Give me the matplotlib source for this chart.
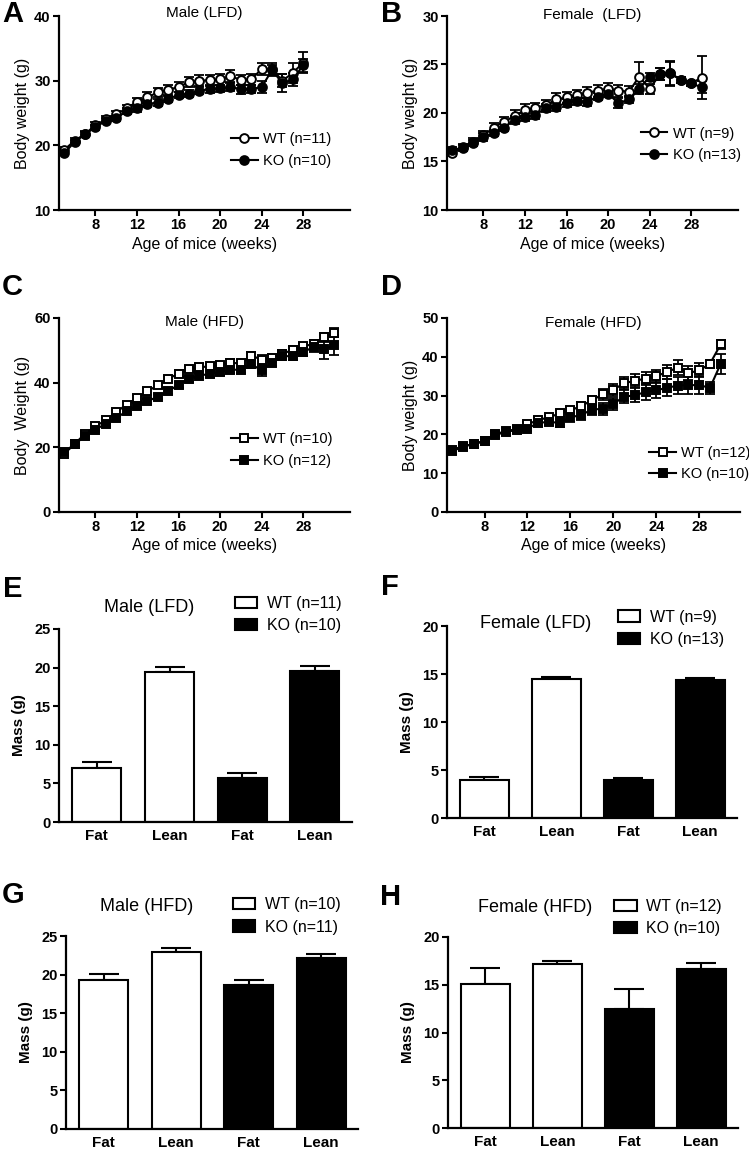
import matplotlib
matplotlib.use("Agg")
import matplotlib.pyplot as plt
from matplotlib.patches import Patch

plt.rcParams['font.family'] = ['Liberation Sans', 'DejaVu Sans']

# ---- data: body weight curves (mean, SEM) ----
weeks_a = [5, 6, 7, 8, 9, 10, 11, 12, 13, 14, 15, 16, 17, 18, 19, 20, 21, 22, 23, 24, 25, 26, 27, 28]
a_wt = [19.3, 20.7, 21.75, 23.1, 24.0, 24.8, 25.7, 26.75, 27.4, 28.2, 28.6, 29.0, 29.8, 30.0,
        30.05, 30.2, 30.7, 30.1, 30.2, 31.8, 31.75, 30.0, 31.2, 32.8]
a_wt_err = [0.4, 0.4, 0.4, 0.5, 0.5, 0.5, 0.6, 0.6, 0.9, 0.7, 0.8, 0.8, 0.8, 0.8, 0.9, 0.9,
            0.9, 0.8, 0.9, 0.9, 1.0, 1.0, 1.6, 1.6]
a_ko = [18.8, 20.5, 21.7, 22.8, 23.8, 24.2, 25.3, 25.7, 26.4, 26.6, 27.2, 27.8, 28.0, 28.45,
        28.7, 28.8, 29.0, 28.7, 28.7, 29.0, 31.65, 29.6, 30.2, 32.4]
a_ko_err = [0.3, 0.3, 0.4, 0.4, 0.4, 0.4, 0.5, 0.5, 0.5, 0.5, 0.5, 0.5, 0.5, 0.5, 0.6, 0.6,
            0.6, 0.7, 0.6, 0.9, 0.7, 1.4, 1.0, 1.0]

weeks_b = [5, 6, 7, 8, 9, 10, 11, 12, 13, 14, 15, 16, 17, 18, 19, 20, 21, 22, 23, 24, 25, 26, 27, 28, 29]
b_wt = [15.85, 16.5, 17.0, 17.7, 18.5, 19.1, 19.7, 20.3, 20.55, 20.8, 21.4, 21.6, 21.85, 22.1,
        22.3, 22.5, 22.3, 22.2, 23.75, 22.5, 24.0, 24.1, 23.4, 23.05, 23.65]
b_wt_err = [0.3, 0.3, 0.4, 0.4, 0.5, 0.5, 0.6, 0.6, 0.5, 0.5, 0.7, 0.6, 0.5, 0.6, 0.6, 0.6,
            0.6, 0.6, 1.5, 0.5, 0.6, 1.3, 0.3, 0.3, 2.2]
b_ko = [16.2, 16.4, 16.95, 17.55, 17.9, 18.5, 19.3, 19.6, 19.8, 20.5, 20.65, 21.05, 21.25, 21.15,
        21.7, 22.0, 21.0, 21.4, 22.45, 23.75, 24.0, 24.1, 23.4, 23.05, 22.65]
b_ko_err = [0.3, 0.3, 0.3, 0.4, 0.3, 0.4, 0.4, 0.4, 0.4, 0.4, 0.4, 0.4, 0.4, 0.4, 0.4, 0.4,
            0.5, 0.4, 0.5, 0.4, 0.6, 1.2, 0.3, 0.3, 0.6]

weeks_c = [5, 6, 7, 8, 9, 10, 11, 12, 13, 14, 15, 16, 17, 18, 19, 20, 21, 22, 23, 24, 25, 26,
           27, 28, 29, 30, 31]
c_wt = [18.0, 21.0, 24.2, 26.5, 28.4, 30.9, 33.2, 35.2, 37.3, 39.2, 41.2, 42.8, 44.3, 44.7,
        45.1, 45.4, 46.1, 46.0, 48.4, 47.1, 47.7, 49.0, 50.1, 51.2, 52.0, 54.0, 55.4]
c_wt_err = [0.6, 0.6, 0.7, 0.7, 0.8, 0.8, 0.9, 0.9, 1.0, 1.0, 1.0, 1.0, 1.0, 1.0, 1.1, 1.1,
            1.1, 1.1, 1.2, 1.4, 1.2, 1.2, 1.2, 1.2, 1.3, 1.4, 1.4]
c_ko = [18.5, 21.0, 23.4, 25.5, 27.3, 29.0, 31.2, 32.9, 34.3, 35.6, 37.3, 39.4, 41.2, 42.2,
        42.7, 43.4, 44.0, 44.0, 45.7, 43.8, 46.2, 48.1, 48.3, 49.5, 51.0, 50.3, 51.6]
c_ko_err = [0.6, 0.6, 0.7, 0.7, 0.7, 0.8, 0.8, 0.8, 0.8, 0.8, 0.9, 0.9, 0.9, 0.9, 0.9, 1.0,
            1.0, 1.0, 1.2, 1.8, 1.2, 1.2, 1.2, 1.2, 1.5, 3.0, 3.0]

weeks_d = [5, 6, 7, 8, 9, 10, 11, 12, 13, 14, 15, 16, 17, 18, 19, 20, 21, 22, 23, 24, 25, 26,
           27, 28, 29, 30]
d_wt = [16.0, 17.0, 17.5, 18.3, 20.0, 20.9, 21.3, 22.6, 23.7, 24.4, 25.4, 26.2, 27.3, 28.8,
        30.3, 31.5, 33.2, 33.8, 34.4, 35.0, 36.1, 37.2, 35.8, 36.5, 38.2, 43.2]
d_wt_err = [0.5, 0.5, 0.5, 0.5, 0.6, 0.6, 0.6, 0.6, 0.7, 0.7, 0.8, 0.9, 1.0, 1.2, 1.4, 1.5,
            1.6, 1.7, 1.7, 1.7, 1.8, 2.0, 1.9, 1.8, 1.0, 1.2]
d_ko = [15.7, 16.8, 17.6, 18.3, 19.8, 20.7, 21.1, 21.5, 23.0, 23.2, 23.0, 24.4, 25.0, 26.4,
        26.6, 27.9, 29.7, 30.1, 30.9, 31.4, 32.0, 32.6, 32.7, 32.7, 32.0, 38.2]
d_ko_err = [0.5, 0.5, 0.5, 0.5, 0.6, 0.6, 0.6, 0.6, 0.8, 0.9, 1.0, 1.1, 1.2, 1.3, 1.5, 1.6,
            1.7, 1.8, 2.0, 2.1, 2.2, 2.2, 2.3, 2.3, 1.5, 2.6]

# ---- data: body composition bars (WT fat, WT lean, KO fat, KO lean) ----
bar_labels = ['Fat', 'Lean', 'Fat', 'Lean']
e_vals = [7.0, 19.4, 5.7, 19.6]
e_errs = [0.75, 0.65, 0.65, 0.55]
f_vals = [4.0, 14.45, 4.0, 14.4]
f_errs = [0.27, 0.24, 0.2, 0.2]
g_vals = [19.3, 22.9, 18.6, 22.2]
g_errs = [0.75, 0.6, 0.75, 0.45]
h_vals = [15.1, 17.2, 12.5, 16.7]
h_errs = [1.7, 0.25, 2.05, 0.6]

W, H = 749, 1149
fig = plt.figure(figsize=(W / 100, H / 100), dpi=100)


def add_ax(l, t, r, b):
    # pixel box -> figure fraction
    return fig.add_axes([l / W, 1 - b / H, (r - l) / W, (b - t) / H])


def style_ax(ax):
    for s in ['top', 'right']:
        ax.spines[s].set_visible(False)
    for s in ['left', 'bottom']:
        ax.spines[s].set_linewidth(1.6)
    ax.tick_params(direction='out', length=4, width=1.5, labelsize=10.5, pad=2)


def line_panel(ax, weeks, wt, wt_err, ko, ko_err, marker, ms, title, ylabel, ylim, yticks,
               xlim, labels, leg_xy, title_y):
    style_ax(ax)
    ax.errorbar(weeks, wt, yerr=wt_err, fmt='none', ecolor='black', elinewidth=1.3,
                capsize=3.5, capthick=1.3, zorder=2)
    ax.errorbar(weeks, ko, yerr=ko_err, fmt='none', ecolor='black', elinewidth=1.3,
                capsize=3.5, capthick=1.3, zorder=2)
    ax.plot(weeks, wt, marker=marker, color='black', mfc='white', mec='black', ms=ms, mew=1.4,
            lw=1.5, label=labels[0], zorder=3)
    ax.plot(weeks, ko, marker=marker, color='black', mfc='black', mec='black', ms=ms, mew=1.4,
            lw=1.5, label=labels[1], zorder=4)
    ax.set_xlim(*xlim)
    ax.set_ylim(*ylim)
    ax.set_xticks([8, 12, 16, 20, 24, 28], ['8', '12', '16', '20', '24', '28'], fontweight='bold')
    ax.set_yticks(yticks, [str(v) for v in yticks], fontweight='bold')
    ax.set_xlabel('Age of mice (weeks)', fontsize=11.5, labelpad=3)
    ax.set_ylabel(ylabel, fontsize=11.5, labelpad=3)
    ax.text(0.5, title_y, title, transform=ax.transAxes, ha='center', va='center', fontsize=11)
    ax.legend(loc='upper left', bbox_to_anchor=leg_xy, frameon=False, borderpad=0,
              borderaxespad=0, handlelength=1.85, handletextpad=0.35, labelspacing=0.5,
              fontsize=10.5, numpoints=1)


def bar_panel(ax, vals, errs, title, labels, ylim, yticks, title_xy, leg_xy):
    style_ax(ax)
    pos = [0, 1, 2, 3]
    colors = ['white', 'white', 'black', 'black']
    ax.bar(pos, vals, width=0.675, color=colors, edgecolor='black', linewidth=1.5, zorder=2)
    ax.errorbar(pos, vals, yerr=[[0, 0, 0, 0], errs], fmt='none', ecolor='black',
                elinewidth=1.5, capsize=11, capthick=1.5, zorder=1)
    ax.set_xlim(-0.52, 3.51)
    ax.set_ylim(*ylim)
    ax.set_xticks(pos, bar_labels, fontweight='bold', fontsize=11)
    ax.tick_params(axis='x', length=0, pad=5)
    ax.set_yticks(yticks, [str(v) for v in yticks], fontweight='bold')
    ax.set_ylabel('Mass (g)', fontsize=11, fontweight='bold', labelpad=6)
    ax.text(title_xy[0], title_xy[1], title, transform=ax.transAxes, ha='center',
            va='center', fontsize=13)
    handles = [Patch(facecolor='white', edgecolor='black', linewidth=1.5, label=labels[0]),
               Patch(facecolor='black', edgecolor='black', linewidth=1.5, label=labels[1])]
    ax.legend(handles=handles, loc='upper left', bbox_to_anchor=leg_xy, frameon=False,
              borderpad=0, borderaxespad=0, handlelength=1.4, handleheight=0.7,
              handletextpad=0.6, labelspacing=0.45, fontsize=11.5)


# line charts
ax_a = add_ax(59, 16, 350, 210)
line_panel(ax_a, weeks_a, a_wt, a_wt_err, a_ko, a_ko_err, 'o', 6.3, 'Male (LFD)',
           'Body weight (g)', (10, 40), [10, 20, 30, 40], (4.5, 32.5),
           ['WT (n=11)', 'KO (n=10)'], (0.59, 0.40), 1.015)

ax_b = add_ax(447, 16, 738, 210)
line_panel(ax_b, weeks_b, b_wt, b_wt_err, b_ko, b_ko_err, 'o', 6.3, 'Female  (LFD)',
           'Body weight (g)', (10, 30), [10, 15, 20, 25, 30], (4.5, 32.5),
           ['WT (n=9)', 'KO (n=13)'], (0.665, 0.43), 1.005)

ax_c = add_ax(59, 318, 350, 512)
line_panel(ax_c, weeks_c, c_wt, c_wt_err, c_ko, c_ko_err, 's', 5.7, 'Male (HFD)',
           'Body  Weight (g)', (0, 60), [0, 20, 40, 60], (4.5, 32.5),
           ['WT (n=10)', 'KO (n=12)'], (0.59, 0.41), 0.98)

ax_d = add_ax(447, 318, 740, 512)
line_panel(ax_d, weeks_d, d_wt, d_wt_err, d_ko, d_ko_err, 's', 5.7, 'Female (HFD)',
           'Body weight (g)', (0, 50), [0, 10, 20, 30, 40, 50], (4.5, 31.8),
           ['WT (n=12)', 'KO (n=10)'], (0.69, 0.34), 0.975)

# bar charts
ax_e = add_ax(59, 629, 352, 822)
bar_panel(ax_e, e_vals, e_errs, 'Male (LFD)', ['WT (n=11)', 'KO (n=10)'], (0, 25),
          [0, 5, 10, 15, 20, 25], (0.307, 1.11), (0.60, 1.17))

ax_f = add_ax(447, 626, 737, 818)
bar_panel(ax_f, f_vals, f_errs, 'Female (LFD)', ['WT (n=9)', 'KO (n=13)'], (0, 20),
          [0, 5, 10, 15, 20], (0.304, 1.015), (0.59, 1.085))

ax_g = add_ax(66, 936, 358, 1129)
bar_panel(ax_g, g_vals, g_errs, 'Male (HFD)', ['WT (n=10)', 'KO (n=11)'], (0, 25),
          [0, 5, 10, 15, 20, 25], (0.275, 1.155), (0.572, 1.20))

ax_h = add_ax(448, 937, 738, 1128)
bar_panel(ax_h, h_vals, h_errs, 'Female (HFD)', ['WT (n=12)', 'KO (n=10)'], (0, 20),
          [0, 5, 10, 15, 20], (0.30, 1.157), (0.573, 1.20))

# panel letters
letters = ['A', 'B', 'C', 'D', 'E', 'F', 'G', 'H']
letter_px = [(2, 0), (381, 0), (2, 273), (381, 273), (3, 575), (381, 573), (2, 881), (380, 883)]
for lab, (px, py) in zip(letters, letter_px):
    fig.text(px / W, 1 - py / H, lab, fontsize=21, fontweight='bold', ha='left', va='top')

fig.savefig('out.png', dpi=100)
